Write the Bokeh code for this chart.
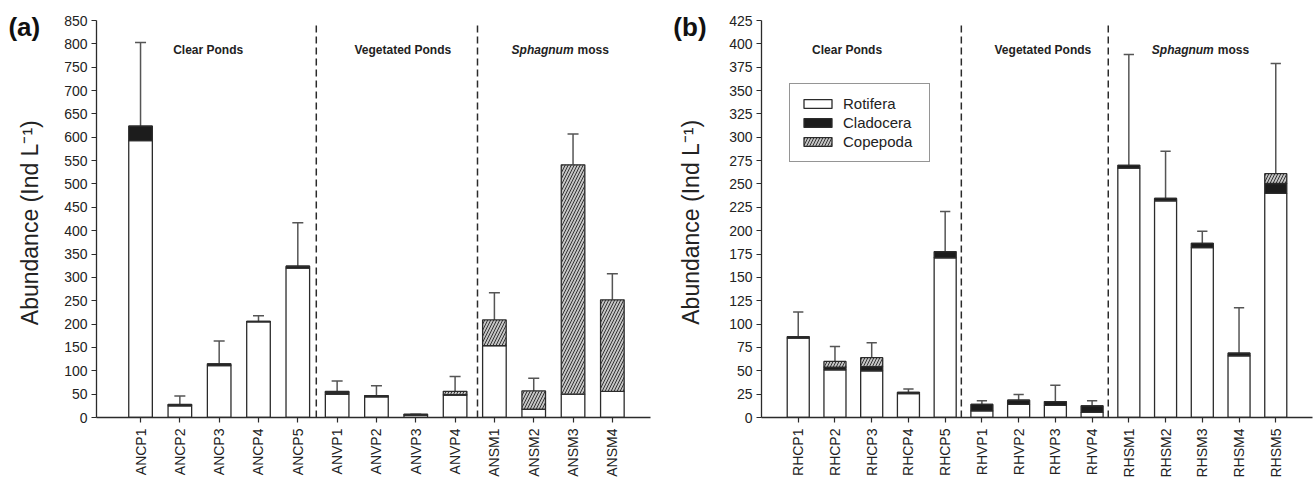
from bokeh.plotting import figure
from bokeh.layouts import row
from bokeh.models import (Range1d, FixedTicker, Legend, LegendItem, Label, ColumnDataSource)
from bokeh.embed import file_html
from bokeh.resources import INLINE
import math

# ---------------- data: panel (a) ----------------
sites_a = ["ANCP1", "ANCP2", "ANCP3", "ANCP4", "ANCP5",
           "ANVP1", "ANVP2", "ANVP3", "ANVP4",
           "ANSM1", "ANSM2", "ANSM3", "ANSM4"]
rotifera_a = [593, 25, 111, 205, 320, 50, 44, 5, 48, 154, 18, 50, 56]
cladocera_a = [31, 2, 4, 1, 4, 3, 3, 1, 1, 0, 0, 0, 0]
copepoda_a = [0, 1, 0, 0, 0, 3, 0, 1, 7, 55, 39, 491, 196]
se_a = [179, 18, 49, 12, 93, 22, 21, 0, 32, 58, 27, 66, 56]
yticks_a = list(range(0, 851, 50))

# ---------------- data: panel (b) ----------------
sites_b = ["RHCP1", "RHCP2", "RHCP3", "RHCP4", "RHCP5",
           "RHVP1", "RHVP2", "RHVP3", "RHVP4",
           "RHSM1", "RHSM2", "RHSM3", "RHSM4", "RHSM5"]
rotifera_b = [85, 51, 50, 25.5, 171, 7, 14, 13, 5.5, 267, 232, 182, 66, 240]
cladocera_b = [1.5, 3, 4.5, 1.5, 6.5, 7, 4.5, 4, 7, 3, 2.5, 4.5, 3, 10.5]
copepoda_b = [0, 6, 9.5, 0, 0, 0, 0, 0, 0, 0, 0, 0, 0, 10.5]
se_b = [26.5, 16, 16, 3.5, 43, 4, 6, 17.5, 5.5, 118.5, 50.5, 13, 48.5, 118]
yticks_b = list(range(0, 426, 25))

groups = ["Clear Ponds", "Vegetated Ponds", "Sphagnum", "moss"]
taxa = ["Rotifera", "Cladocera", "Copepoda"]
y_title = "Abundance (Ind L\u207b\u00b9)"

FONT = "Liberation Sans"
DARK = "#2b2b2b"
ERR = "#555555"


def make_panel(sites, rot, cla, cop, se, yticks, width, left, right, xr, ymax,
               dividers, header_x, split_x, header_y, letter, letter_xy, title_xy,
               with_legend):
    n = len(sites)
    xs = list(range(1, n + 1))
    total = [r + c + k for r, c, k in zip(rot, cla, cop)]
    upper = [t + s for t, s in zip(total, se)]
    src = ColumnDataSource(dict(x=xs, Rotifera=rot, Cladocera=cla, Copepoda=cop,
                                total=total, upper=upper,
                                cl=[x - 0.14 for x in xs], cr=[x + 0.14 for x in xs]))
    p = figure(width=width, height=486, output_backend="svg", toolbar_location=None,
               x_range=Range1d(*xr), y_range=Range1d(0, ymax),
               min_border_left=left, min_border_right=right,
               min_border_top=20, min_border_bottom=69)
    p.outline_line_color = None
    p.grid.visible = False
    p.background_fill_color = "white"

    # error bars (upper only)
    p.segment(x0="x", y0="total", x1="x", y1="upper", source=src,
              line_color=ERR, line_width=1.5)
    p.segment(x0="cl", y0="upper", x1="cr", y1="upper", source=src,
              line_color=ERR, line_width=1.5)

    rs = p.vbar_stack(taxa, x="x", width=0.6, source=src,
                      fill_color=["white", "#1c1c1c", "#c4c4c4"],
                      line_color=DARK, line_width=1.3,
                      hatch_pattern=[" ", " ", "/"], hatch_color="#333333",
                      hatch_scale=6, hatch_weight=1)

    # dashed dividers
    for d in dividers:
        p.segment(x0=[d], y0=[0], x1=[d], y1=[ymax * 0.99], line_color=DARK,
                  line_width=1.5, line_dash="7 4")

    # headers
    common = dict(y=header_y, text_font=FONT, text_font_size="12px",
                  text_baseline="middle", text_color="#222222")
    p.add_layout(Label(x=header_x[0], text=groups[0], text_font_style="bold",
                       text_align="center", **common))
    p.add_layout(Label(x=header_x[1], text=groups[1], text_font_style="bold",
                       text_align="center", **common))
    p.add_layout(Label(x=split_x, text=groups[2], text_font_style="bold italic",
                       text_align="right", x_offset=-1, **common))
    p.add_layout(Label(x=split_x, text=groups[3], text_font_style="bold",
                       text_align="left", x_offset=3, **common))

    # axes
    p.xaxis.ticker = FixedTicker(ticks=xs)
    p.xaxis.major_label_overrides = {x: s for x, s in zip(xs, sites)}
    p.xaxis.major_label_orientation = math.pi / 2
    p.yaxis.ticker = FixedTicker(ticks=yticks)
    for ax in (p.xaxis, p.yaxis):
        ax.axis_line_color = DARK
        ax.axis_line_width = 1.3
        ax.major_tick_line_color = DARK
        ax.major_tick_line_width = 1.2
        ax.major_tick_out = 5
        ax.major_tick_in = 0
        ax.minor_tick_line_color = None
        ax.major_label_text_font = FONT
        ax.major_label_text_font_size = "14px"
        ax.major_label_text_color = "#222222"
    p.yaxis.major_label_standoff = 4
    p.xaxis.major_label_standoff = 6

    # y title and panel letter, placed in the left side panel (not clipped)
    p.add_layout(Label(x=title_xy[0], y=title_xy[1], text=y_title, text_font=FONT,
                       text_font_size="23px", text_align="center", text_baseline="middle",
                       angle=math.pi / 2, text_color="#222222"), "left")
    p.add_layout(Label(x=letter_xy[0], y=letter_xy[1], text=letter, text_font=FONT,
                       text_font_size="26px", text_font_style="bold", text_align="left",
                       text_baseline="top", text_color="#111111"), "left")

    if with_legend:
        leg = Legend(items=[LegendItem(label=t, renderers=[r]) for t, r in zip(taxa, rs)],
                     location=(28, 255), glyph_width=35, glyph_height=11,
                     label_height=19, label_width=76, spacing=0, padding=10, margin=0,
                     label_standoff=8, label_text_font=FONT, label_text_font_size="15px",
                     label_text_color="#222222", border_line_color=DARK,
                     border_line_width=1.2, background_fill_alpha=1.0)
        p.add_layout(leg)
    return p


pa = make_panel(sites_a, rotifera_a, cladocera_a, copepoda_a, se_a, yticks_a,
                width=660, left=96, right=10, xr=(-0.12, 13.97), ymax=850,
                dividers=[5.47, 9.57], header_x=[2.72, 7.67], split_x=12.04,
                header_y=786, letter="(a)", letter_xy=(-2.36, 869),
                title_xy=(-1.82, 417), with_legend=False)
pb = make_panel(sites_b, rotifera_b, cladocera_b, copepoda_b, se_b, yticks_b,
                width=654, left=101, right=2, xr=(0, 15), ymax=425,
                dividers=[5.44, 9.44], header_x=[2.33, 7.66], split_x=12.34,
                header_y=393, letter="(b)", letter_xy=(-2.4, 434.5),
                title_xy=(-1.93, 209), with_legend=True)

layout = row(pa, pb)
open("out.html", "w").write(file_html(layout, INLINE))
